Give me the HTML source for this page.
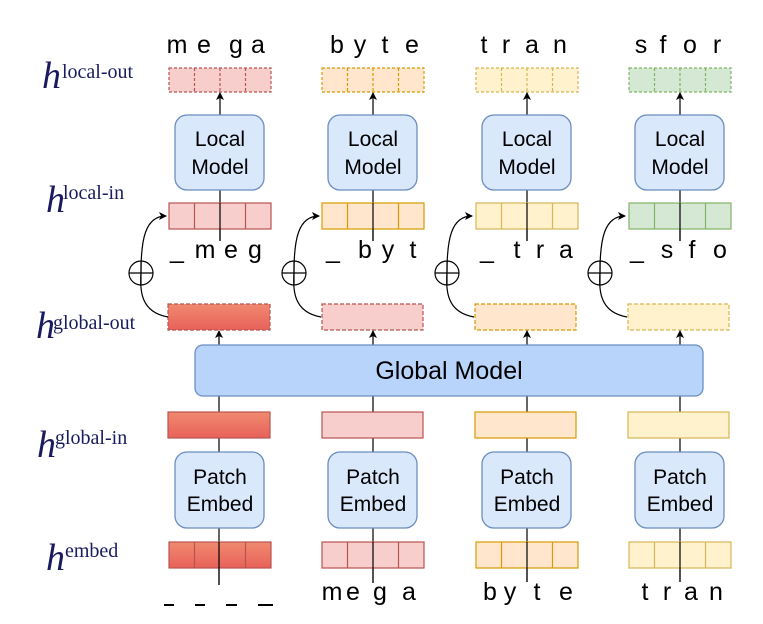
<!DOCTYPE html>
<html><head><style>body{margin:0;background:#fff}svg{display:block}</style></head><body>
<svg width="763" height="624" viewBox="0 0 763 624" xmlns="http://www.w3.org/2000/svg" font-family="Liberation Sans, sans-serif">
<defs>
<linearGradient id="rg" x1="0" y1="0" x2="0" y2="1"><stop offset="0" stop-color="#f08a70"/><stop offset="1" stop-color="#e8615a"/></linearGradient>
<marker id="ah" markerWidth="8" markerHeight="8" refX="7" refY="4" orient="auto" markerUnits="userSpaceOnUse"><path d="M0,0 L8,4 L0,8 L2,4 z" fill="#000"/></marker>
</defs>
<g font-family="Liberation Serif, serif" fill="#1a1a5e">
<text x="42" y="88" font-size="38" font-style="italic">h</text><text x="62" y="78" font-size="20">local-out</text>
<text x="46" y="212" font-size="38" font-style="italic">h</text><text x="63" y="199" font-size="20">local-in</text>
<text x="36" y="338" font-size="38" font-style="italic">h</text><text x="53" y="329" font-size="20">global-out</text>
<text x="37" y="457" font-size="38" font-style="italic">h</text><text x="55" y="444" font-size="20">global-in</text>
<text x="46" y="570" font-size="38" font-style="italic">h</text><text x="65" y="557" font-size="20">embed</text>
</g>
<!-- lines behind boxes -->
<g stroke="#000" stroke-width="1.2" fill="none">
<path d="M220 190 V241 M373 190 V241 M527 190 V241 M680 190 V241"/>
<path d="M219 396 V412 M219 438 V452 M373 396 V412 M373 438 V452 M527 396 V412 M527 438 V452 M680 396 V412 M680 438 V452"/>
<path d="M219 528 V585 M373 528 V583 M527 528 V582 M680 528 V582"/>
</g>
<g stroke-width="1.2">
<g>
<rect x="169" y="68" width="102" height="24" fill="#f8cecc" stroke="#b85450" stroke-dasharray="3,2"/>
<line x1="194.5" y1="68" x2="194.5" y2="92" stroke="#b85450" stroke-dasharray="3,2"/><line x1="220" y1="68" x2="220" y2="92" stroke="#b85450" stroke-dasharray="3,2"/><line x1="245.5" y1="68" x2="245.5" y2="92" stroke="#b85450" stroke-dasharray="3,2"/>
<rect x="169" y="203" width="102" height="26" fill="#f8cecc" stroke="#b85450"/>
<line x1="194.5" y1="203" x2="194.5" y2="229" stroke="#b85450"/><line x1="245.5" y1="203" x2="245.5" y2="229" stroke="#b85450"/>
<rect x="168" y="304" width="102" height="26" fill="url(#rg)" stroke="#b85450" stroke-dasharray="4,2"/>
<rect x="168" y="412" width="102" height="26" fill="url(#rg)" stroke="#b85450"/>
<rect x="169" y="542" width="102" height="26" fill="url(#rg)" stroke="#b85450"/>
<line x1="194.5" y1="542" x2="194.5" y2="568" stroke="#b85450"/><line x1="245.5" y1="542" x2="245.5" y2="568" stroke="#b85450"/>
</g>
<g>
<rect x="322" y="68" width="102" height="24" fill="#ffe6cc" stroke="#d79b00" stroke-dasharray="3,2"/>
<line x1="347.5" y1="68" x2="347.5" y2="92" stroke="#d79b00" stroke-dasharray="3,2"/><line x1="373" y1="68" x2="373" y2="92" stroke="#d79b00" stroke-dasharray="3,2"/><line x1="398.5" y1="68" x2="398.5" y2="92" stroke="#d79b00" stroke-dasharray="3,2"/>
<rect x="322" y="203" width="102" height="26" fill="#ffe6cc" stroke="#d79b00"/>
<line x1="347.5" y1="203" x2="347.5" y2="229" stroke="#d79b00"/><line x1="398.5" y1="203" x2="398.5" y2="229" stroke="#d79b00"/>
<rect x="322" y="304" width="101" height="26" fill="#f8cecc" stroke="#b85450" stroke-dasharray="4,2"/>
<rect x="322" y="412" width="101" height="26" fill="#f8cecc" stroke="#b85450"/>
<rect x="322" y="542" width="102" height="26" fill="#f8cecc" stroke="#b85450"/>
<line x1="347.5" y1="542" x2="347.5" y2="568" stroke="#b85450"/><line x1="398.5" y1="542" x2="398.5" y2="568" stroke="#b85450"/>
</g>
<g>
<rect x="476" y="68" width="102" height="24" fill="#fff2cc" stroke="#d6b656" stroke-dasharray="3,2"/>
<line x1="501.5" y1="68" x2="501.5" y2="92" stroke="#d6b656" stroke-dasharray="3,2"/><line x1="527" y1="68" x2="527" y2="92" stroke="#d6b656" stroke-dasharray="3,2"/><line x1="552.5" y1="68" x2="552.5" y2="92" stroke="#d6b656" stroke-dasharray="3,2"/>
<rect x="476" y="203" width="102" height="26" fill="#fff2cc" stroke="#d6b656"/>
<line x1="501.5" y1="203" x2="501.5" y2="229" stroke="#d6b656"/><line x1="552.5" y1="203" x2="552.5" y2="229" stroke="#d6b656"/>
<rect x="475" y="304" width="101" height="26" fill="#ffe6cc" stroke="#d79b00" stroke-dasharray="4,2"/>
<rect x="475" y="412" width="101" height="26" fill="#ffe6cc" stroke="#d79b00"/>
<rect x="476" y="542" width="102" height="26" fill="#ffe6cc" stroke="#d79b00"/>
<line x1="501.5" y1="542" x2="501.5" y2="568" stroke="#d79b00"/><line x1="552.5" y1="542" x2="552.5" y2="568" stroke="#d79b00"/>
</g>
<g>
<rect x="629" y="68" width="102" height="24" fill="#d5e8d4" stroke="#82b366" stroke-dasharray="3,2"/>
<line x1="654.5" y1="68" x2="654.5" y2="92" stroke="#82b366" stroke-dasharray="3,2"/><line x1="680" y1="68" x2="680" y2="92" stroke="#82b366" stroke-dasharray="3,2"/><line x1="705.5" y1="68" x2="705.5" y2="92" stroke="#82b366" stroke-dasharray="3,2"/>
<rect x="629" y="203" width="102" height="26" fill="#d5e8d4" stroke="#82b366"/>
<line x1="654.5" y1="203" x2="654.5" y2="229" stroke="#82b366"/><line x1="705.5" y1="203" x2="705.5" y2="229" stroke="#82b366"/>
<rect x="628" y="304" width="101" height="26" fill="#fff2cc" stroke="#d6b656" stroke-dasharray="4,2"/>
<rect x="628" y="412" width="101" height="26" fill="#fff2cc" stroke="#d6b656"/>
<rect x="629" y="542" width="102" height="26" fill="#fff2cc" stroke="#d6b656"/>
<line x1="654.5" y1="542" x2="654.5" y2="568" stroke="#d6b656"/><line x1="705.5" y1="542" x2="705.5" y2="568" stroke="#d6b656"/>
</g>
</g>
<!-- lines through local-in and embed drawn over -->
<g stroke="#000" stroke-width="1.2" fill="none">
<path d="M220 203 V241 M373 203 V241 M527 203 V241 M680 203 V241"/>
<path d="M219 542 V585 M373 542 V583 M527 542 V582 M680 542 V582"/>
</g>
<g stroke="#000" stroke-width="1.2" fill="none" marker-end="url(#ah)">
<path d="M220 115 V93"/><path d="M373 115 V93"/><path d="M527 115 V93"/><path d="M680 115 V93"/>
<path d="M219 345 V331"/><path d="M373 345 V331"/><path d="M527 345 V331"/><path d="M680 345 V331"/>
<path d="M168 317 C140 312 140 290 141 272 C141 240 145 216 166 216"/>
<path d="M321 317 C293 312 293 290 294 272 C294 240 298 216 319 216"/>
<path d="M474 317 C446 312 446 290 447 272 C447 240 451 216 472 216"/>
<path d="M627 317 C599 312 599 290 600 272 C600 240 604 216 625 216"/>
</g>
<g stroke="#000" stroke-width="1.2" fill="none">
<circle cx="141" cy="273" r="12"/><path d="M129 273 H153 M141 261 V285"/>
<circle cx="294" cy="273" r="12"/><path d="M282 273 H306 M294 261 V285"/>
<circle cx="447" cy="273" r="12"/><path d="M435 273 H459 M447 261 V285"/>
<circle cx="600" cy="273" r="12"/><path d="M588 273 H612 M600 261 V285"/>
</g>
<g fill="#dae8fc" stroke="#6c8ebf" stroke-width="1.3">
<rect x="175" y="115" width="89" height="75" rx="12"/>
<rect x="328" y="115" width="89" height="75" rx="12"/>
<rect x="482" y="115" width="89" height="75" rx="12"/>
<rect x="635" y="115" width="89" height="75" rx="12"/>
<rect x="175" y="452" width="89" height="76" rx="12"/>
<rect x="328" y="452" width="89" height="76" rx="12"/>
<rect x="482" y="452" width="89" height="76" rx="12"/>
<rect x="635" y="452" width="89" height="76" rx="12"/>
<rect x="195" y="345" width="508" height="51" rx="8" fill="#b8d4fb"/>
</g>
<g font-size="21" text-anchor="middle" fill="#000">
<text x="220" y="146">Local</text><text x="220" y="174">Model</text>
<text x="373" y="146">Local</text><text x="373" y="174">Model</text>
<text x="527" y="146">Local</text><text x="527" y="174">Model</text>
<text x="680" y="146">Local</text><text x="680" y="174">Model</text>
<text x="220" y="484">Patch</text><text x="220" y="511">Embed</text>
<text x="373" y="484">Patch</text><text x="373" y="511">Embed</text>
<text x="527" y="484">Patch</text><text x="527" y="511">Embed</text>
<text x="680" y="484">Patch</text><text x="680" y="511">Embed</text>
<text x="449" y="379" font-size="25">Global Model</text>
</g>
<g font-size="25" text-anchor="middle" fill="#000">
<text x="177 204 236 258" y="53">mega</text>
<text x="337 360 385 412" y="53">byte</text>
<text x="484 506 532 560" y="53">tran</text>
<text x="641 663 690 717" y="53">sfor</text>
<text x="177 205 231 255" y="258">_meg</text>
<text x="333 365 388 413" y="258">_byt</text>
<text x="487 517 540 566" y="258">_tra</text>
<text x="637 667 692 720" y="258">_sfo</text>
<text x="332 353 380 409" y="600">mega</text>
<text x="490 510 537 566" y="600">byte</text>
<text x="645 667 691 716" y="600">tran</text>
</g>
<g stroke="#000" stroke-width="2">
<path d="M164 605 H174 M195 605 H205 M226 605 H237 M258 605 H273"/>
</g>
</svg>
</body></html>
